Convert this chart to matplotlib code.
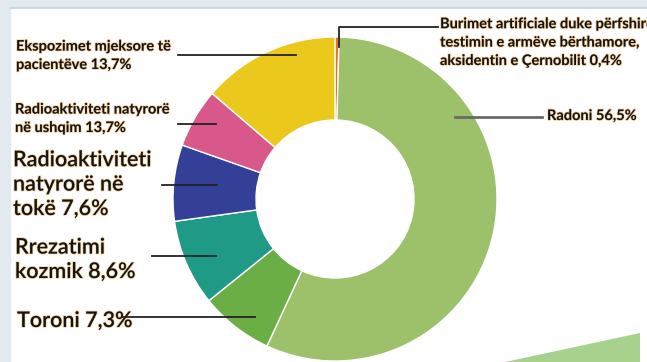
import matplotlib
matplotlib.use("Agg")
import matplotlib.pyplot as plt
import matplotlib.patheffects as pe
from matplotlib.patches import Rectangle, Polygon

# slices, clockwise from 12 o'clock
names = ["Burimet artificiale", "Radoni", "Toroni", "Rrezatimi kozmik",
         "Radioaktiviteti natyrore ne toke", "Radioaktiviteti natyrore ne ushqim",
         "Ekspozimet mjeksore"]
# drawn sizes (the pink slice is drawn much smaller than its 13,7% label)
shares = [0.4, 56.5, 7.3, 8.6, 7.6, 5.9, 13.7]
colors = ["#e8731f", "#9dc06b", "#6cae46", "#1f9a87", "#343f98", "#d9588b", "#ebc91c"]

label_texts = [
    "Burimet artificiale duke përfshirë\ntestimin e armëve bërthamore,\naksidentin e Çernobilit 0,4%",
    "Radoni 56,5%",
    "Toroni 7,3%",
    "Rrezatimi\nkozmik 8,6%",
    "Radioaktiviteti\nnatyrorë në\ntokë 7,6%",
    "Radioaktiviteti natyrorë\nnë ushqim 13,7%",
    "Ekspozimet mjeksore të\npacientëve 13,7%",
]

W, H = 647, 362
fig = plt.figure(figsize=(W / 100, H / 100), dpi=100)
fig.patch.set_facecolor("white")
ax = fig.add_axes([0, 0, 1, 1])

def py(y):
    # pixel row (from top) -> data y
    return H - y

# donut
ax.pie(shares, colors=colors, startangle=90, counterclock=False,
       center=(335, py(199)), radius=162,
       wedgeprops=dict(width=83, edgecolor="white", linewidth=1.0))

ax.set_xlim(0, W)
ax.set_ylim(0, H)
ax.set_aspect("equal")
ax.axis("off")

# page frame strips
ax.add_patch(Rectangle((0, py(7)), W, 7, color="#e3eaef", zorder=0))
ax.add_patch(Rectangle((0, 0), 10, H, color="#e3eaef", zorder=0))
ax.plot([10, W], [py(7.5), py(7.5)], color="#c3d3e2", lw=1.2, zorder=1)

# decorative green corner shape
ax.add_patch(Polygon([(505, 0), (640, py(333)), (640, 0)], closed=True,
                     color="#a9d18e", lw=0, zorder=1))

halo = [pe.withStroke(linewidth=1.2, foreground="#f0b060", alpha=0.55)]
small = dict(fontfamily="Lato", fontweight="bold", fontsize=10.5, color="#151515",
             va="baseline", ha="left", linespacing=1.4, path_effects=halo)
big = dict(fontfamily="Lato", fontweight=600, fontsize=15.5, color="#151515",
           va="baseline", ha="left", linespacing=1.2, path_effects=halo)

# y = baseline of the last line
ax.text(440, py(65), label_texts[0], **small)
ax.text(547, py(120), label_texts[1], **small)
ax.text(17, py(327), label_texts[2], **big)
ax.text(15, py(278), label_texts[3], **big)
ax.text(13, py(215), label_texts[4], **big)
ax.text(15, py(132), label_texts[5], **small)
ax.text(16, py(69), label_texts[6], **small)

# leader lines
line = dict(color="#222222", lw=1.3, zorder=5)
ax.plot([339, 339, 438], [py(47), py(27), py(27)], **line)
ax.plot([455, 542], [py(117), py(117)], color="#6a6a6a", lw=2, zorder=5)
ax.plot([123, 255], [py(317), py(317)], **line)
ax.plot([152, 216], [py(256), py(256)], **line)
ax.plot([162, 217], [py(185), py(185)], **line)
ax.plot([178, 216], [py(124), py(124)], **line)
ax.plot([178, 296], [py(55), py(55)], **line)

fig.savefig("out.png", dpi=100)
